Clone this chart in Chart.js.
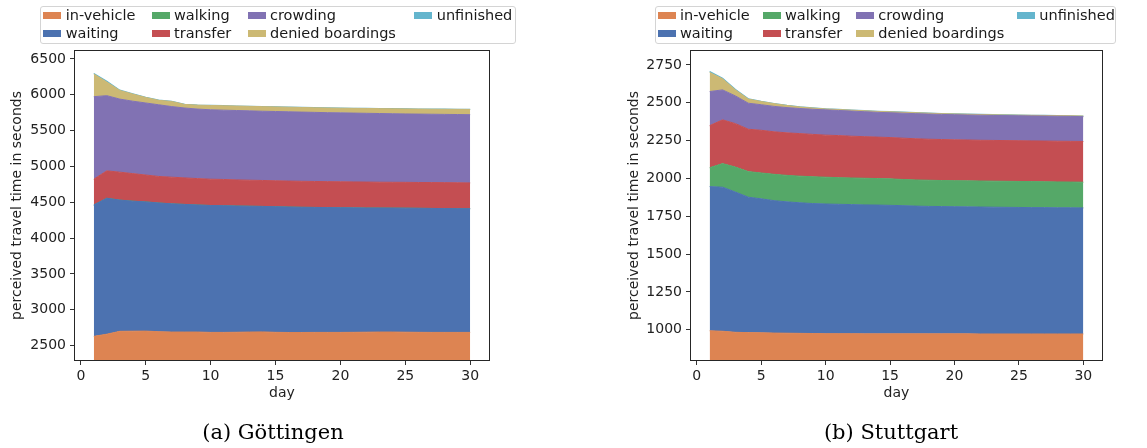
<!DOCTYPE html>
<html><head><meta charset="utf-8">
<script src="https://cdn.jsdelivr.net/npm/chart.js@4"></script>
<style>
body{margin:0;width:1147px;height:448px;background:#fff;position:relative;overflow:hidden;font-family:"DejaVu Sans",sans-serif;}
canvas{position:absolute;top:0}
.legend{position:absolute;top:6px;height:38px;border:1px solid #d4d4d4;border-radius:3px;box-sizing:border-box;background:rgba(255,255,255,0.8)}
.item{position:absolute;height:18px;line-height:18px;font-size:14.5px;color:#1a1a1a;white-space:nowrap}
.sw{position:absolute;width:18px;height:7px}
.cap{position:absolute;top:422px;font-family:"DejaVu Serif",serif;font-size:21px;line-height:21px;transform:translateX(-50%);white-space:nowrap;color:#000}
</style>
</head><body>
<canvas id="c1" width="573" height="448" style="left:0px;width:573px;height:448px"></canvas>
<canvas id="c2" width="574" height="448" style="left:573px;width:574px;height:448px"></canvas>
<div class="cap" style="left:273px">(a) Göttingen</div>
<div class="cap" style="left:891px">(b) Stuttgart</div>
<script>
const days = [1,2,3,4,5,6,7,8,9,10,11,12,13,14,15,16,17,18,19,20,21,22,23,24,25,26,27,28,29,30];
const seriesNames = ['in-vehicle','waiting','walking','transfer','crowding','denied boardings','unfinished'];
const seriesColors = ['#DD8452','#4C72B0','#55A868','#C44E52','#8172B3','#CCB974','#64B5CD'];
const xTicks = [0,5,10,15,20,25,30];

// Göttingen
const gInVehicle = [2630,2660,2700,2702,2703,2695,2690,2690,2690,2685,2685,2687,2690,2692,2686,2684,2684,2685,2685,2685,2686,2688,2690,2690,2688,2686,2685,2685,2685,2685];
const gWaiting   = [1833,1896,1830,1813,1802,1795,1788,1780,1772,1770,1767,1761,1755,1750,1752,1750,1746,1743,1741,1739,1736,1732,1730,1729,1730,1730,1729,1727,1726,1725];
const gWalking   = [0,0,0,0,0,0,0,0,0,0,0,0,0,0,0,0,0,0,0,0,0,0,0,0,0,0,0,0,0,0];
const gTransfer  = [359,382,390,385,375,370,372,370,368,367,366,364,363,362,362,362,363,362,362,362,362,362,360,360,360,360,361,362,361,360];
const gCrowding  = [1151,1049,1019,1010,1005,1000,985,975,970,968,967,968,967,966,966,966,965,964,962,961,960,959,958,956,954,954,953,952,952,952];
const gDenied    = [316,190,121,99,77,62,71,50,55,60,61,62,63,64,64,64,64,64,65,65,66,67,68,69,70,70,70,71,72,73];
const gUnfinished= [8,10,4,3,2,2,2,2,1,1,1,1,1,1,1,1,1,1,1,1,1,1,1,1,1,1,1,1,1,1];
const gYTicks = [2500,3000,3500,4000,4500,5000,5500,6000,6500];

// Stuttgart
const sInVehicle = [993,990,983,981,980,978,977,976,975,974,974,974,973,973,973,973,973,973,973,973,973,972,972,972,972,972,972,972,972,972];
const sWaiting   = [953,952,927,895,885,875,868,863,859,857,855,853,852,851,849,847,844,842,841,840,839,839,838,837,836,835,835,834,834,833];
const sWalking   = [125,156,165,169,171,174,175,176,177,177,176,176,176,175,175,173,173,173,172,172,172,172,172,172,172,172,171,171,170,170];
const sTransfer  = [278,289,287,280,282,281,281,281,280,278,278,276,275,274,273,273,272,271,271,270,270,269,269,269,269,269,269,269,269,269];
const sCrowding  = [225,198,183,172,169,168,167,166,166,167,166,166,165,164,164,165,166,166,166,166,165,166,165,165,165,165,165,165,165,164];
const sDenied    = [126,73,40,27,21,18,14,10,8,6,6,6,6,6,6,6,6,6,5,5,5,4,4,4,4,4,4,4,4,4];
const sUnfinished= [6,4,3,2,1,1,1,1,1,1,1,1,1,1,1,1,1,1,1,1,1,1,1,1,1,0,0,0,0,0];
const sYTicks = [1000,1250,1500,1750,2000,2250,2500,2750];

const framePlugin = {
  id: 'frame',
  afterDatasetsDraw(chart) {
    const {ctx, chartArea: a} = chart;
    ctx.save();
    ctx.strokeStyle = '#262626';
    ctx.lineWidth = 1;
    ctx.strokeRect(Math.round(a.left) - 0.5, Math.round(a.top) - 0.5, Math.round(a.right - a.left) + 1, Math.round(a.bottom - a.top) + 1);
    ctx.restore();
  }
};

const tickFont = {family: 'DejaVu Sans', size: 14};

function makeChart(id, series, yMin, yMax, yTicks, pad, yAxisW, xAxisH) {
  const datasets = series.map((vals, i) => ({
    label: seriesNames[i],
    data: vals,
    backgroundColor: seriesColors[i],
    borderColor: seriesColors[i],
    borderWidth: i === series.length - 1 ? 1.2 : 1,
    pointRadius: 0,
    tension: 0,
    fill: i === 0 ? 'start' : '-1'
  }));
  return new Chart(document.getElementById(id), {
    type: 'line',
    data: {labels: days, datasets},
    plugins: [framePlugin],
    options: {
      responsive: false,
      animation: false,
      devicePixelRatio: 1,
      layout: {padding: pad},
      plugins: {legend: {display: false}, tooltip: {enabled: false}},
      scales: {
        x: {
          type: 'linear', min: -0.45, max: 31.45,
          afterBuildTicks: s => { s.ticks = xTicks.map(v => ({value: v})); },
          afterFit: s => { s.height = xAxisH; },
          ticks: {font: tickFont, color: '#222', padding: 3, maxRotation: 0, autoSkip: false, callback: v => String(v)},
          grid: {drawOnChartArea: false, tickLength: 5, color: '#333'},
          border: {display: false},
          title: {display: true, text: 'day', font: tickFont, color: '#222', padding: 0}
        },
        y: {
          stacked: true, min: yMin, max: yMax,
          afterBuildTicks: s => { s.ticks = yTicks.map(v => ({value: v})); },
          afterFit: s => { s.width = yAxisW; },
          ticks: {font: tickFont, color: '#222', padding: 4, autoSkip: false, callback: v => String(v)},
          grid: {drawOnChartArea: false, tickLength: 5, color: '#333'},
          border: {display: false},
          title: {display: true, text: 'perceived travel time in seconds', font: tickFont, color: '#222', padding: 0}
        }
      }
    }
  });
}

makeChart('c1', [gInVehicle, gWaiting, gWalking, gTransfer, gCrowding, gDenied, gUnfinished],
  2300, 6610, gYTicks, {left: 9, top: 51, right: 84, bottom: 46.6}, 66, 41.4);
makeChart('c2', [sInVehicle, sWaiting, sWalking, sTransfer, sCrowding, sDenied, sUnfinished],
  800, 2842, sYTicks, {left: 52.6, top: 51, right: 45, bottom: 46.6}, 65.4, 41.4);

function makeLegend(boxLeft, boxWidth, swX, txX) {
  const box = document.createElement('div');
  box.className = 'legend';
  box.style.left = boxLeft + 'px';
  box.style.width = boxWidth + 'px';
  document.body.appendChild(box);
  seriesNames.forEach((name, i) => {
    const col = Math.floor(i / 2), row = i % 2;
    const sw = document.createElement('div');
    sw.className = 'sw';
    sw.style.left = swX[col] + 'px';
    sw.style.top = (12 + row * 18) + 'px';
    sw.style.background = seriesColors[i];
    document.body.appendChild(sw);
    const t = document.createElement('div');
    t.className = 'item';
    t.style.left = txX[col] + 'px';
    t.style.top = (6.3 + row * 18) + 'px';
    t.textContent = name;
    document.body.appendChild(t);
  });
}
makeLegend(40, 476, [42.7, 151.7, 247.7, 414], [65.7, 174, 270, 436.7]);
makeLegend(655, 461, [657.7, 762.7, 856, 1016.7], [680, 785, 878.3, 1039.3]);
</script>
</body></html>
